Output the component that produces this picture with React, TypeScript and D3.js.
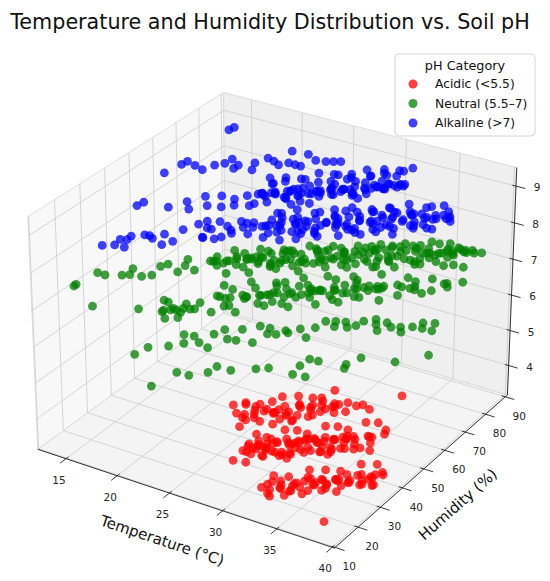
import { useEffect, useRef } from 'react';
import * as d3 from 'd3';

type Sample = [number, number, number]; // temperature (°C), humidity (%), pH

const acidicSamples: Sample[] = [
  [27.2, 27.1, 4.9], [28.0, 28.8, 4.9], [29.3, 22.8, 4.9], [28.6, 25.5, 4.85], [29.0, 28.5, 4.95], [29.4, 26.0, 4.8], [29.8, 29.5, 4.9], [30.1, 27.0, 5.0], [30.5, 31.5, 4.85], [30.8, 28.5, 4.95], [31.2, 32.5, 4.8], [31.5, 30.0, 4.9], [31.9, 34.0, 5.0], [32.2, 31.5, 4.85], [32.6, 35.5, 4.9], [32.9, 33.0, 4.8], [33.3, 37.0, 4.95], [33.6, 35.0, 4.9], [34.0, 39.5, 4.85], [34.3, 37.0, 5.0], [34.7, 42.0, 4.9], [35.0, 39.5, 4.8], [30.0, 31.0, 5.05], [32.0, 30.0, 4.75], [33.0, 38.5, 5.05], [31.0, 26.5, 4.75], [36.7, 41.9, 4.9], [37.8, 51.3, 4.9],
  [28.2, 23.9, 4.93], [28.8, 23.7, 4.87], [29.1, 27.6, 4.9], [29.6, 25.1, 4.97], [30.3, 30.2, 4.83], [30.6, 28.6, 4.9], [31.0, 31.8, 4.97], [31.4, 30.4, 4.83], [31.7, 34.8, 4.9], [32.1, 33.5, 4.95], [32.4, 37.4, 4.85], [32.8, 34.6, 4.9], [33.1, 38.5, 4.97], [33.5, 37.7, 4.83], [33.9, 39.9, 4.9], [34.4, 39.4, 4.95], [35.4, 42.4, 4.85], [35.9, 42.9, 4.9],
  [28.4, 27.0, 5.08], [28.9, 22.0, 4.72], [29.4, 28.5, 5.05], [29.9, 26.0, 4.75], [30.4, 33.5, 5.1], [30.9, 30.0, 4.7], [31.4, 35.9, 5.08], [31.9, 30.9, 4.72], [32.4, 37.4, 5.05], [32.9, 34.9, 4.75], [33.4, 42.4, 5.1], [34.0, 39.2, 4.7],
  [29.7, 15.6, 4.2], [30.0, 21.0, 4.4], [30.3, 17.0, 4.45], [30.6, 22.0, 4.35], [30.9, 18.5, 4.5], [31.2, 23.0, 4.4], [31.5, 19.5, 4.3], [31.8, 24.5, 4.45], [32.1, 21.0, 4.4], [32.4, 26.0, 4.5], [32.7, 22.5, 4.35], [33.0, 27.0, 4.4], [33.3, 23.5, 4.3], [33.6, 28.5, 4.45], [33.9, 25.0, 4.4], [34.2, 29.5, 4.5], [34.5, 26.5, 4.35], [34.8, 31.0, 4.4], [35.1, 28.0, 4.3], [35.4, 32.0, 4.45], [35.7, 29.5, 4.4], [36.0, 33.5, 4.5], [36.3, 31.0, 4.35], [36.7, 35.5, 4.4], [37.1, 33.0, 4.3], [37.6, 37.5, 4.45], [38.0, 36.0, 4.4], [38.4, 40.4, 4.45], [38.3, 41.5, 4.5], [31.0, 20.5, 4.6], [32.5, 23.5, 4.2], [34.0, 27.0, 4.6], [35.5, 30.5, 4.2], [33.5, 26.0, 4.55], [36.5, 33.0, 4.6], [30.5, 19.5, 4.25],
  [30.2, 19.6, 4.43], [30.4, 18.1, 4.37], [30.7, 21.9, 4.4], [31.1, 19.0, 4.47], [31.3, 22.5, 4.33], [31.6, 20.8, 4.4], [32.0, 23.9, 4.47], [32.2, 21.9, 4.33], [32.5, 26.2, 4.4], [32.9, 24.7, 4.45], [33.1, 28.3, 4.35], [33.4, 25.1, 4.4], [33.8, 29.1, 4.47], [34.0, 27.7, 4.33], [34.4, 29.7, 4.4], [34.7, 32.0, 4.45], [35.0, 29.3, 4.35], [35.3, 33.1, 4.4], [35.6, 31.9, 4.47], [35.9, 35.7, 4.33], [36.2, 33.0, 4.4], [36.5, 35.8, 4.45], [36.9, 34.3, 4.35], [37.3, 38.4, 4.4], [37.8, 37.7, 4.45], [32.0, 22.0, 4.55], [33.0, 24.5, 4.25], [34.5, 28.5, 4.55], [35.5, 31.0, 4.25], [31.5, 23.5, 4.55],
  [30.3, 22.8, 4.6], [30.7, 16.4, 4.2], [31.1, 23.5, 4.55], [31.5, 20.0, 4.25], [31.9, 27.6, 4.62], [32.3, 23.2, 4.18], [32.7, 29.2, 4.6], [33.1, 22.8, 4.2], [33.5, 29.8, 4.55], [33.9, 26.4, 4.25], [34.3, 34.0, 4.62], [34.7, 29.5, 4.18], [35.1, 35.6, 4.6], [35.5, 29.2, 4.2], [35.9, 36.2, 4.55], [36.3, 32.8, 4.25], [36.7, 40.4, 4.62], [37.1, 35.9, 4.18], [37.5, 42.0, 4.6], [38.0, 35.8, 4.2], [31.3, 21.5, 4.4], [32.9, 25.7, 4.42], [34.5, 30.0, 4.38], [36.1, 34.3, 4.42],
  [32.3, 15.7, 3.7], [32.7, 18.5, 3.75], [33.0, 15.0, 3.65], [33.4, 19.0, 3.7], [33.8, 16.5, 3.8], [34.1, 20.5, 3.65], [34.5, 18.0, 3.7], [34.8, 22.5, 3.75], [35.2, 19.5, 3.6], [35.5, 24.0, 3.7], [35.9, 21.5, 3.8], [36.2, 25.5, 3.65], [36.6, 23.0, 3.7], [36.9, 27.5, 3.75], [37.3, 24.5, 3.6], [37.6, 29.0, 3.7], [38.0, 26.5, 3.8], [38.3, 31.0, 3.65], [38.7, 29.0, 3.7], [39.0, 33.5, 3.75], [39.4, 35.0, 3.7], [39.2, 31.0, 3.6], [35.0, 23.0, 3.85], [36.0, 26.5, 3.55], [37.0, 25.5, 3.85], [38.5, 33.0, 3.6], [34.0, 17.5, 3.55], [38.5, 13.3, 3.5],
  [32.5, 17.3, 3.72], [32.9, 16.4, 3.66], [33.2, 19.7, 3.75], [33.6, 17.8, 3.68], [34.3, 21.3, 3.72], [34.7, 20.9, 3.66], [35.0, 24.2, 3.75], [35.4, 23.3, 3.68], [35.7, 25.7, 3.72], [36.1, 24.3, 3.8], [36.4, 28.6, 3.62], [36.8, 27.3, 3.7], [37.1, 30.1, 3.75], [37.5, 28.7, 3.66], [37.8, 31.5, 3.72], [38.2, 31.2, 3.8], [38.5, 34.0, 3.62], [38.9, 32.6, 3.7], [39.3, 35.2, 3.75], [33.9, 22.2, 3.6],
  [32.6, 19.5, 3.85], [33.1, 15.4, 3.55], [33.6, 21.3, 3.82], [34.1, 19.2, 3.58], [34.6, 25.6, 3.88], [35.1, 22.5, 3.52], [35.6, 27.9, 3.85], [36.1, 23.8, 3.55], [36.6, 29.7, 3.82], [37.1, 27.6, 3.58], [37.6, 34.0, 3.88], [38.1, 30.9, 3.52], [38.6, 36.3, 3.85], [39.1, 32.2, 3.55],
];

const neutralSamples: Sample[] = [
  [12.4, 25.5, 6.95], [12.5, 26.0, 6.98], [12.6, 34.3, 6.93], [13.3, 34.4, 6.92], [14.4, 36.8, 6.9], [14.9, 37.9, 6.9], [15.8, 39.0, 6.88], [16.3, 41.1, 6.86], [16.0, 46.1, 6.85], [16.3, 48.0, 6.85], [17.6, 49.6, 6.84], [17.1, 53.0, 6.82], [14.5, 40.9, 6.9], [17.7, 46.0, 6.84], [18.6, 49.2, 6.82],
  [18.8, 58.2, 6.8], [19.1, 53.9, 6.9], [19.5, 57.8, 6.7], [19.8, 53.6, 6.85], [20.2, 60.5, 6.75], [20.5, 59.2, 6.9], [20.9, 57.1, 6.8], [21.2, 64.8, 6.7], [21.6, 60.7, 6.85], [21.9, 64.4, 6.75], [22.3, 60.3, 6.8], [22.6, 64.9, 6.9], [23.0, 62.8, 6.7], [23.3, 68.5, 6.85], [23.7, 66.4, 6.75], [24.0, 63.1, 6.9], [24.4, 70.0, 6.8], [24.7, 67.7, 6.7], [25.1, 73.6, 6.85], [25.4, 67.3, 6.75], [25.8, 74.2, 6.8], [26.1, 69.9, 6.9], [26.5, 73.8, 6.7], [26.8, 69.5, 6.85], [27.2, 76.4, 6.75], [27.5, 75.0, 6.9], [27.9, 72.8, 6.8], [28.2, 80.4, 6.7], [28.6, 76.2, 6.85], [28.9, 79.8, 6.75], [29.3, 75.6, 6.8], [29.6, 80.3, 6.9], [30.0, 78.1, 6.7], [30.3, 83.7, 6.85], [30.7, 81.5, 6.75], [31.0, 78.1, 6.9], [31.4, 84.9, 6.8], [31.7, 82.5, 6.7], [32.1, 88.3, 6.85], [32.4, 81.9, 6.75], [32.8, 88.7, 6.8], [33.1, 84.3, 6.9], [33.5, 88.1, 6.7], [33.8, 83.7, 6.85], [34.2, 90.6, 6.75], [34.5, 89.2, 6.9], [34.9, 87.0, 6.8], [35.7, 90.8, 6.85], [36.1, 90.0, 6.9], [36.5, 90.9, 6.95], [36.9, 89.5, 6.97], [37.4, 90.6, 6.97],
  [23.6, 65.5, 6.95], [27.6, 78.0, 6.6], [30.1, 77.0, 6.6], [32.6, 83.0, 6.6], [25.6, 73.5, 6.6], [31.1, 83.5, 6.95], [23.1, 66.5, 6.6], [34.8, 90.5, 6.7], [29.1, 80.0, 6.95],
  [19.0, 55.7, 6.8], [19.4, 55.1, 6.87], [19.8, 59.0, 6.73], [20.3, 55.7, 6.92], [20.7, 62.6, 6.68], [21.1, 61.0, 6.8], [21.5, 60.9, 6.87], [21.9, 62.4, 6.73], [22.3, 61.8, 6.92], [22.7, 65.7, 6.68], [23.1, 62.1, 6.8], [23.5, 69.0, 6.87], [23.9, 67.5, 6.73], [24.3, 67.4, 6.92], [24.7, 68.8, 6.68], [25.1, 68.2, 6.8], [25.5, 72.1, 6.87], [25.9, 68.5, 6.73], [26.3, 73.4, 6.92], [26.7, 73.8, 6.68], [27.1, 73.7, 6.8], [27.5, 75.0, 6.87], [27.9, 74.3, 6.73], [28.3, 76.1, 6.92], [28.7, 74.4, 6.68], [29.1, 81.2, 6.8], [29.5, 79.6, 6.87], [29.9, 79.4, 6.73], [30.3, 80.7, 6.92], [30.7, 80.0, 6.68], [31.1, 83.8, 6.8], [31.5, 80.1, 6.87], [31.9, 86.9, 6.73], [32.3, 85.2, 6.92], [32.7, 85.0, 6.68], [33.1, 86.3, 6.8], [33.5, 85.6, 6.87], [33.9, 89.4, 6.73], [34.3, 85.8, 6.92], [34.7, 90.6, 6.8], [35.1, 88.4, 6.87], [35.5, 90.2, 6.93],
  [20.0, 60.5, 6.97], [20.4, 54.9, 6.62], [20.8, 61.3, 6.92], [21.2, 58.8, 6.68], [21.6, 64.7, 6.95], [22.0, 57.6, 6.65], [22.4, 64.5, 6.97], [22.8, 63.4, 6.62], [23.2, 67.8, 6.92], [23.6, 62.3, 6.68], [24.0, 68.0, 6.95], [24.4, 66.1, 6.65], [24.8, 72.0, 6.97], [25.2, 64.9, 6.62], [25.6, 71.8, 6.92], [26.0, 70.7, 6.68], [26.4, 75.2, 6.95], [26.8, 69.6, 6.65], [27.2, 75.0, 6.97], [27.6, 73.2, 6.62], [28.0, 79.0, 6.92], [28.4, 71.8, 6.68], [28.8, 78.6, 6.95], [29.2, 77.4, 6.65], [29.6, 81.8, 6.97], [30.0, 76.1, 6.62], [30.4, 83.4, 6.92], [30.8, 79.7, 6.68], [31.2, 85.5, 6.95], [31.6, 78.3, 6.65], [32.0, 85.1, 6.97], [32.4, 83.9, 6.62], [32.8, 90.2, 6.92], [33.2, 82.5, 6.68], [33.6, 89.8, 6.95], [34.0, 86.1, 6.65], [34.4, 90.9, 6.97], [34.8, 85.7, 6.62], [35.2, 90.9, 6.92], [35.6, 86.3, 6.68], [36.0, 90.0, 6.95], [36.4, 87.0, 6.65],
  [12.9, 30.6, 6.2], [16.5, 34.5, 6.25], [17.6, 40.5, 6.3], [17.9, 41.0, 6.25], [18.2, 37.0, 6.2], [18.5, 40.5, 6.15], [18.7, 36.0, 6.1], [19.0, 39.5, 6.2], [19.3, 42.5, 6.25], [19.5, 38.0, 6.1], [19.9, 41.5, 6.2], [20.3, 44.0, 6.3], [18.0, 38.5, 6.15], [18.8, 38.0, 6.25], [19.2, 40.5, 6.1], [19.7, 39.5, 6.3], [20.0, 43.0, 6.15],
  [20.5, 50.5, 6.2], [21.1, 49.0, 6.3], [21.6, 48.5, 6.1], [22.2, 54.0, 6.2], [22.8, 52.0, 6.25], [23.3, 57.0, 6.15], [23.7, 54.5, 6.3], [24.1, 59.0, 6.2], [24.5, 56.5, 6.1], [24.8, 61.5, 6.25], [25.2, 58.5, 6.2], [25.6, 63.5, 6.3], [25.9, 60.5, 6.15], [26.3, 65.5, 6.2], [26.7, 62.5, 6.25], [27.0, 67.5, 6.1], [27.4, 64.5, 6.3], [27.8, 69.0, 6.2], [28.1, 65.5, 6.15], [28.5, 70.5, 6.25], [28.9, 67.5, 6.2], [29.3, 72.0, 6.3], [29.7, 69.0, 6.1], [30.1, 74.0, 6.2], [30.6, 71.0, 6.25], [31.0, 76.5, 6.15], [31.5, 73.0, 6.3], [32.0, 78.0, 6.2], [32.6, 75.0, 6.1], [33.1, 81.0, 6.25], [33.6, 78.0, 6.2], [34.2, 83.5, 6.3], [34.7, 80.5, 6.15], [35.3, 85.0, 6.2], [35.8, 82.5, 6.25], [36.3, 87.5, 6.2],
  [25.7, 64.0, 6.05], [28.7, 70.5, 6.05], [31.2, 72.5, 6.35], [24.2, 60.0, 6.35], [32.7, 80.5, 6.05],
  [21.3, 50.4, 6.2], [21.8, 50.3, 6.27], [22.4, 54.9, 6.13], [22.9, 52.2, 6.3], [23.5, 58.8, 6.1], [24.0, 57.7, 6.2], [24.6, 58.3, 6.27], [25.1, 61.6, 6.13], [25.7, 59.7, 6.3], [26.2, 66.1, 6.1], [26.8, 65.0, 6.2], [27.3, 64.6, 6.27], [27.9, 69.0, 6.13], [28.4, 66.1, 6.3], [29.0, 72.5, 6.1], [29.5, 71.1, 6.2], [30.1, 71.5, 6.27], [30.6, 74.6, 6.13], [31.2, 73.0, 6.25], [32.3, 78.5, 6.15], [33.5, 78.7, 6.25], [35.0, 85.2, 6.15],
  [20.6, 53.1, 6.38], [21.0, 45.6, 6.02], [21.4, 53.2, 6.33], [21.8, 49.8, 6.07], [22.2, 57.8, 6.4], [22.6, 48.9, 6.0], [23.0, 56.0, 6.38], [23.4, 55.1, 6.02], [23.8, 61.6, 6.33], [24.2, 54.2, 6.07], [24.6, 61.8, 6.4], [25.0, 58.4, 6.0], [25.4, 66.4, 6.38], [25.8, 57.5, 6.02], [26.2, 64.6, 6.33], [26.6, 63.5, 6.07], [27.0, 69.9, 6.4], [27.4, 62.3, 6.0], [27.8, 69.7, 6.38], [28.2, 66.2, 6.02], [28.6, 74.1, 6.33], [29.0, 65.0, 6.07], [29.4, 71.9, 6.4], [29.8, 70.8, 6.0], [30.5, 77.9, 6.38], [31.5, 71.7, 6.02], [32.5, 80.5, 6.33], [34.0, 79.4, 6.07],
  [20.5, 36.2, 5.8], [21.3, 32.6, 5.8], [21.5, 36.1, 5.85], [22.1, 35.5, 5.75], [23.3, 33.8, 5.8], [22.5, 40.1, 5.8], [23.0, 42.5, 5.85], [24.4, 41.0, 5.75], [24.0, 45.6, 5.8], [25.9, 41.3, 5.8], [25.1, 48.4, 5.85], [25.8, 49.5, 5.8], [26.6, 48.4, 5.75], [27.1, 50.4, 5.8], [28.1, 52.2, 5.85], [29.1, 50.0, 5.8], [28.7, 56.1, 5.75], [29.0, 59.4, 5.8], [29.7, 60.6, 5.8], [30.6, 60.8, 5.85], [31.3, 62.1, 5.75], [31.6, 64.2, 5.8], [32.3, 66.5, 5.8], [33.5, 61.0, 5.85], [33.2, 67.2, 5.75], [34.0, 65.0, 5.8], [35.1, 64.1, 5.8], [35.6, 67.0, 5.85], [36.1, 69.1, 5.75], [36.7, 72.1, 5.8], [37.1, 68.5, 5.8],
  [27.5, 49.5, 5.82], [30.0, 58.5, 5.78], [32.8, 64.0, 5.82], [34.6, 66.5, 5.78], [26.2, 46.5, 5.82], [23.8, 40.0, 5.78], [31.0, 59.5, 5.8], [35.9, 70.5, 5.82],
  [18.3, 25.0, 5.6], [18.9, 28.0, 5.7], [20.0, 31.8, 5.65], [22.8, 23.0, 5.6], [24.2, 21.9, 5.7], [24.9, 26.8, 5.6], [25.3, 28.8, 5.7], [26.4, 29.7, 5.65], [27.8, 34.1, 5.6], [28.9, 34.5, 5.7], [30.9, 35.6, 5.65], [30.5, 40.7, 5.6], [30.9, 43.1, 5.7], [31.5, 44.1, 5.65], [33.5, 46.9, 5.6], [34.0, 43.6, 5.7], [34.1, 50.7, 5.65], [36.6, 53.9, 5.6], [38.6, 59.3, 5.7], [22.5, 13.9, 5.65], [31.8, 36.9, 5.6],
];

const alkalineSamples: Sample[] = [
  [15.4, 51.0, 9.15], [15.7, 57.0, 9.15], [16.1, 57.8, 9.23], [16.6, 58.8, 9.12], [17.1, 59.7, 9.0], [17.9, 61.5, 9.11], [18.6, 62.8, 9.16], [19.1, 63.8, 9.27], [19.2, 63.9, 9.02], [19.5, 64.6, 9.1], [20.4, 66.5, 8.96], [20.6, 66.9, 9.15], [21.5, 68.6, 9.28], [21.9, 69.3, 9.2], [22.2, 70.0, 9.09], [22.9, 71.3, 9.14], [23.1, 71.9, 9.45], [23.3, 72.3, 9.08], [23.7, 72.9, 9.05], [24.2, 74.0, 9.36], [24.7, 75.0, 9.19], [25.4, 76.3, 9.16], [25.9, 77.4, 9.15], [26.4, 78.3, 9.15], [16.3, 75.0, 9.4], [16.6, 76.0, 9.45],
  [14.8, 42.0, 8.6], [15.1, 43.5, 8.65], [16.9, 46.0, 8.55], [17.8, 50.0, 8.6], [18.3, 48.5, 8.5], [18.9, 53.0, 8.7], [19.4, 51.5, 8.55], [19.8, 56.0, 8.65], [20.3, 53.5, 8.5], [20.8, 57.0, 8.6], [21.2, 55.0, 8.55], [21.7, 58.5, 8.7], [22.1, 57.5, 8.5],
  [22.5, 61.5, 8.7], [22.9, 60.0, 8.75], [23.3, 63.5, 8.65], [23.6, 62.0, 8.8], [24.0, 65.5, 8.7], [24.3, 63.5, 8.6], [24.7, 67.0, 8.75], [25.0, 65.5, 8.65], [25.4, 69.0, 8.8], [25.7, 67.0, 8.7], [26.1, 70.5, 8.6], [26.4, 69.0, 8.75], [26.8, 72.5, 8.7], [27.1, 70.5, 8.8], [27.5, 74.0, 8.65], [27.8, 72.5, 8.75], [28.2, 76.0, 8.7], [28.5, 74.0, 8.6], [28.9, 77.5, 8.8], [29.2, 76.0, 8.7], [29.6, 79.5, 8.65], [29.9, 78.0, 8.75], [30.3, 81.5, 8.7], [30.6, 80.0, 8.8], [31.0, 83.5, 8.65], [31.3, 82.0, 8.75], [23.0, 64.0, 8.9], [26.0, 66.0, 8.5], [27.5, 76.0, 8.85], [29.0, 73.5, 8.55], [25.0, 62.5, 8.55], [30.0, 82.0, 8.9],
  [22.3, 60.5, 8.7], [22.7, 60.1, 8.77], [23.1, 64.2, 8.63], [23.5, 60.8, 8.82], [23.8, 67.6, 8.58], [24.2, 66.2, 8.7], [24.5, 66.0, 8.77], [24.9, 67.6, 8.63], [25.2, 66.9, 8.82], [25.6, 71.0, 8.58], [25.9, 67.3, 8.7], [26.3, 74.3, 8.77], [26.6, 72.7, 8.63], [27.0, 72.7, 8.82], [27.3, 74.0, 8.58], [27.7, 73.6, 8.7], [28.0, 77.4, 8.77], [28.4, 74.0, 8.63], [28.7, 80.8, 8.82], [29.1, 79.4, 8.58], [29.4, 79.2, 8.7], [29.8, 80.8, 8.77], [30.1, 80.1, 8.63], [30.5, 84.2, 8.82], [30.8, 81.5, 8.7], [31.2, 84.6, 8.63],
  [22.4, 65.3, 8.95], [22.6, 57.4, 8.6], [22.8, 64.4, 8.85], [23.0, 60.4, 8.7], [23.3, 68.2, 8.9], [23.5, 58.8, 8.65], [23.8, 65.6, 8.95], [24.0, 64.1, 8.6], [24.3, 70.4, 8.85], [24.5, 62.5, 8.7], [24.8, 69.8, 8.9], [25.0, 65.8, 8.65], [25.3, 73.6, 8.95], [25.5, 64.2, 8.6], [25.8, 71.0, 8.85], [26.0, 69.5, 8.7], [26.3, 75.8, 8.9], [26.5, 67.9, 8.65], [26.8, 75.2, 8.95], [27.0, 71.2, 8.6], [27.3, 79.0, 8.85], [27.5, 69.6, 8.7], [27.8, 76.4, 8.9], [28.0, 74.9, 8.65], [28.3, 81.2, 8.95], [28.5, 73.3, 8.6], [28.8, 80.6, 8.85], [29.0, 76.6, 8.7], [29.3, 84.4, 8.9], [29.5, 75.0, 8.65], [29.8, 81.8, 8.95], [30.0, 80.3, 8.6], [30.3, 86.6, 8.85], [30.5, 78.7, 8.7], [30.8, 86.0, 8.9], [31.0, 82.0, 8.65], [31.3, 87.8, 8.95], [31.5, 82.4, 8.7],
  [14.2, 30.0, 8.0], [14.8, 32.5, 7.95], [15.0, 34.0, 8.05], [15.3, 35.5, 8.0], [15.6, 36.0, 8.1], [15.5, 33.5, 7.9], [16.2, 39.0, 8.05], [16.7, 40.0, 7.95], [16.8, 38.5, 8.1], [17.3, 42.5, 8.0], [17.6, 40.0, 7.85], [18.2, 42.0, 7.9], [18.3, 46.0, 8.05], [19.0, 49.5, 8.1], [19.6, 50.5, 8.0], [19.8, 47.5, 7.9], [20.6, 49.0, 7.85], [21.0, 53.0, 8.05], [21.6, 52.0, 7.95], [22.2, 56.0, 8.1], [22.6, 54.5, 7.9],
  [19.3, 51.9, 8.1], [19.9, 47.3, 7.9], [20.4, 52.5, 8.15], [20.9, 50.7, 7.85], [21.3, 57.7, 8.0], [21.8, 50.9, 8.1], [22.3, 58.1, 7.9], [22.8, 56.3, 8.15], [20.0, 50.5, 8.0], [22.0, 55.3, 8.0],
  [23.2, 58.0, 8.0], [23.6, 60.5, 8.1], [23.9, 57.5, 7.9], [24.3, 61.5, 8.05], [24.7, 59.5, 7.95], [25.0, 63.5, 8.1], [25.4, 61.0, 7.9], [25.8, 65.0, 8.05], [26.1, 62.5, 7.95], [26.5, 66.5, 8.1], [26.9, 64.0, 7.9], [27.2, 68.0, 8.0], [27.6, 66.0, 8.1], [27.9, 70.0, 7.95], [28.3, 67.5, 8.05], [28.6, 71.5, 8.1], [29.0, 69.0, 7.9], [29.3, 73.0, 8.0], [29.7, 71.0, 8.1], [30.0, 75.0, 7.95], [30.4, 72.5, 8.05], [30.7, 76.5, 8.1], [31.1, 74.0, 7.9], [31.4, 77.5, 8.0], [31.8, 76.0, 8.15], [32.1, 79.5, 7.95], [32.5, 77.0, 8.05], [32.8, 81.0, 8.1], [33.2, 79.0, 7.9], [33.6, 82.0, 8.0], [34.0, 81.0, 8.1], [34.3, 84.0, 7.95], [34.8, 85.0, 8.05], [35.2, 86.0, 8.0], [24.0, 63.0, 8.2], [28.0, 73.0, 8.15], [31.0, 79.0, 8.2], [26.0, 60.0, 7.8], [30.0, 70.0, 7.8],
  [23.4, 58.7, 8.0], [23.8, 58.2, 8.07], [24.1, 61.8, 7.93], [24.5, 58.3, 8.12], [24.9, 65.2, 7.88], [25.2, 63.4, 8.0], [25.6, 63.3, 8.07], [26.0, 64.7, 7.93], [26.3, 63.9, 8.12], [26.7, 67.8, 7.88], [27.0, 64.0, 8.0], [27.4, 70.9, 8.07], [27.8, 69.4, 7.93], [28.1, 69.0, 8.12], [28.5, 70.5, 7.88], [28.8, 69.7, 8.0], [29.2, 73.6, 8.07], [29.5, 69.8, 7.93], [29.9, 76.7, 8.12], [30.2, 74.9, 7.88], [30.6, 74.8, 8.0], [30.9, 76.0, 8.07], [31.3, 75.4, 7.93], [31.6, 79.1, 8.12], [32.0, 75.5, 7.88], [32.3, 82.2, 8.0], [32.7, 80.6, 8.07], [33.0, 80.3, 7.93], [33.4, 81.7, 8.12], [33.7, 80.9, 7.88], [34.1, 84.8, 8.0], [34.5, 81.3, 8.07], [34.9, 85.7, 7.93], [35.3, 85.1, 8.0],
  [23.5, 63.5, 8.15], [23.8, 55.7, 7.85], [24.1, 62.8, 8.1], [24.4, 59.0, 7.9], [24.7, 66.7, 8.2], [25.0, 57.4, 7.8], [25.3, 64.1, 8.15], [25.6, 62.8, 7.85], [25.9, 69.0, 8.1], [26.2, 61.2, 7.9], [26.5, 68.4, 8.2], [26.8, 64.6, 7.8], [27.1, 72.2, 8.15], [27.4, 62.9, 7.85], [27.7, 69.6, 8.1], [28.0, 68.3, 7.9], [28.3, 74.5, 8.2], [28.6, 66.7, 7.8], [28.9, 73.9, 8.15], [29.2, 70.1, 7.85], [29.5, 77.8, 8.1], [29.8, 68.5, 7.9], [30.1, 75.1, 8.2], [30.4, 73.8, 7.8], [30.7, 80.0, 8.15], [31.0, 72.2, 7.85], [31.3, 79.4, 8.1], [31.6, 75.6, 7.9], [31.9, 83.3, 8.2], [32.2, 74.0, 7.8], [32.5, 80.7, 8.15], [32.8, 79.4, 7.85], [33.1, 85.5, 8.1], [33.4, 77.7, 7.9], [33.7, 84.9, 8.2], [34.0, 81.1, 7.8], [34.3, 87.8, 8.15], [34.6, 80.5, 7.85], [35.0, 86.4, 8.1], [35.5, 84.6, 7.95],
];

const temperatureTicks = [15, 20, 25, 30, 35, 40];
const humidityTicks = [10, 20, 30, 40, 50, 60, 70, 80, 90];
const phTicks = [4, 5, 6, 7, 8, 9];

const temperatureDomain: [number, number] = [12.2, 40.2];
const humidityDomain: [number, number] = [9.7, 91.1];
const phDomain: [number, number] = [3.15, 9.5];

const categories = [
  { label: 'Acidic (<5.5)', color: 'red', samples: acidicSamples },
  { label: 'Neutral (5.5–7)', color: 'green', samples: neutralSamples },
  { label: 'Alkaline (>7)', color: 'blue', samples: alkalineSamples },
];

// view like matplotlib's 3d axes: elevation / azimuth in degrees, box aspect 4:4:3
const ELEV = 28;
const AZIM = -58;
const Z_ASPECT = 3;

// perspective camera, takes unit cube coords and gives [x, y, depth]
function camera(elev: number, azim: number, zAspect: number) {
  const aspect = [4, 4, zAspect];
  const k = 1.8294640721620434 / Math.hypot(aspect[0], aspect[1], aspect[2]);
  const box = aspect.map(v => v * k);
  const e = elev * Math.PI / 180, a = azim * Math.PI / 180;
  const w = [Math.cos(e) * Math.cos(a), Math.cos(e) * Math.sin(a), Math.sin(e)];
  const u = [-Math.sin(a), Math.cos(a), 0];
  const v = [-Math.sin(e) * Math.cos(a), -Math.sin(e) * Math.sin(a), Math.cos(e)];
  const eye = box.map((b, i) => b / 2 + 10 * w[i]);
  return (n: number[]) => {
    const d = n.map((t, i) => t * box[i] - eye[i]);
    const dot = (q: number[]) => q[0] * d[0] + q[1] * d[1] + q[2] * d[2];
    const depth = -dot(w);
    return [dot(u) / depth, dot(v) / depth, depth];
  };
}

export default function App() {
  const ref = useRef<HTMLDivElement>(null);

  useEffect(() => {
    d3.select(ref.current).html('');
    const width = 550, height = 581;
    const cam = camera(ELEV, AZIM, Z_ASPECT);

    const tx = d3.scaleLinear().domain(temperatureDomain).range([0, 1]);
    const hy = d3.scaleLinear().domain(humidityDomain).range([0, 1]);
    const pz = d3.scaleLinear().domain(phDomain).range([0, 1]);
    // projected plane -> pixels
    const sx = d3.scaleLinear().domain([0, 0.1]).range([276.3, 276.3 + 304.13]);
    const sy = d3.scaleLinear().domain([0, 0.1]).range([309.0, 309.0 - 303.73]);

    const toScreen = (t: number, h: number, p: number) => {
      const q = cam([tx(t), hy(h), pz(p)]);
      return [sx(q[0]), sy(q[1]), q[2]];
    };
    const xy = (p: number[]) => { const s = toScreen(p[0], p[1], p[2]); return [s[0], s[1]] as [number, number]; };

    const [t0, t1] = temperatureDomain, [h0, h1] = humidityDomain, [p0, p1] = phDomain;
    const line = d3.line();

    const svg = d3.select(ref.current)
      .append('svg')
      .attr('width', width)
      .attr('height', height)
      .style('position', 'absolute')
      .style('left', 0)
      .style('top', 0)
      .style('font-family', 'DejaVu Sans, sans-serif');

    svg.append('rect').attr('width', width).attr('height', height).attr('fill', '#fff');

    // panes: floor, left wall, back wall
    const panes = [
      { pts: [[t0, h0, p0], [t1, h0, p0], [t1, h1, p0], [t0, h1, p0]], fill: '#f4f4f4' },
      { pts: [[t0, h0, p0], [t0, h1, p0], [t0, h1, p1], [t0, h0, p1]], fill: '#f8f8f8' },
      { pts: [[t0, h1, p0], [t1, h1, p0], [t1, h1, p1], [t0, h1, p1]], fill: '#efefef' },
    ];
    svg.append('g').selectAll('path').data(panes).join('path')
      .attr('d', d => line(d.pts.map(xy))! + 'Z')
      .attr('fill', d => d.fill)
      .attr('stroke', '#d6d6d6')
      .attr('stroke-width', 0.8);

    // grid
    const grid: number[][][] = [];
    temperatureTicks.forEach(t => {
      grid.push([[t, h0, p0], [t, h1, p0]]);
      grid.push([[t, h1, p0], [t, h1, p1]]);
    });
    humidityTicks.forEach(h => {
      grid.push([[t0, h, p0], [t1, h, p0]]);
      grid.push([[t0, h, p0], [t0, h, p1]]);
    });
    phTicks.forEach(p => {
      grid.push([[t0, h0, p], [t0, h1, p]]);
      grid.push([[t0, h1, p], [t1, h1, p]]);
    });
    svg.append('g').selectAll('path').data(grid).join('path')
      .attr('d', d => line(d.map(xy)))
      .attr('stroke', '#cbcbcb')
      .attr('stroke-width', 0.8)
      .attr('fill', 'none');

    // axis lines
    const axes = [
      [[t0, h0, p0], [t1, h0, p0]],
      [[t1, h0, p0], [t1, h1, p0]],
      [[t1, h1, p0], [t1, h1, p1]],
    ];
    svg.append('g').selectAll('path').data(axes).join('path')
      .attr('d', d => line(d.map(xy)))
      .attr('stroke', '#222')
      .attr('stroke-width', 0.9)
      .attr('fill', 'none');

    const dh = h1 - h0, dt = t1 - t0;
    const ticks: { a: number[]; b: number[] }[] = [];
    temperatureTicks.forEach(t => ticks.push({ a: [t, h0 + 0.012 * dh, p0], b: [t, h0 - 0.03 * dh, p0] }));
    humidityTicks.forEach(h => ticks.push({ a: [t1 - 0.012 * dt, h, p0], b: [t1 + 0.03 * dt, h, p0] }));
    phTicks.forEach(p => ticks.push({ a: [t1 - 0.012 * dt, h1, p], b: [t1 + 0.03 * dt, h1, p] }));
    svg.append('g').selectAll('path').data(ticks).join('path')
      .attr('d', d => line([xy(d.a), xy(d.b)]))
      .attr('stroke', '#222')
      .attr('stroke-width', 0.9);

    const tickLabels = [
      ...temperatureTicks.map(t => ({ text: String(t), s: xy([t, h0, p0]), dx: -7, dy: 21 })),
      ...humidityTicks.map(h => ({ text: String(h), s: xy([t1, h, p0]), dx: 14, dy: 19 })),
      ...phTicks.map(p => ({ text: String(p), s: xy([t1, h1, p]), dx: 21, dy: 1 })),
    ];
    svg.append('g').selectAll('text').data(tickLabels).join('text')
      .attr('x', d => d.s[0] + d.dx)
      .attr('y', d => d.s[1] + d.dy)
      .attr('text-anchor', 'middle')
      .attr('dominant-baseline', 'central')
      .attr('font-size', 10.5)
      .attr('fill', '#262626')
      .text(d => d.text);

    // axis titles, turned along their axis
    const axisTitle = (text: string, a: number[], b: number[], dx: number, dy: number) => {
      const angle = Math.atan2(b[1] - a[1], b[0] - a[0]) * 180 / Math.PI;
      svg.append('text')
        .attr('transform', `translate(${(a[0] + b[0]) / 2 + dx},${(a[1] + b[1]) / 2 + dy}) rotate(${angle})`)
        .attr('text-anchor', 'middle')
        .attr('dominant-baseline', 'central')
        .attr('font-size', 15)
        .attr('fill', '#111')
        .text(text);
    };
    axisTitle('Temperature (°C)', xy([t0, h0, p0]), xy([t1, h0, p0]), -24, 42);
    axisTitle('Humidity (%)', xy([t1, h0, p0]), xy([t1, h1, p0]), 37, 33);

    // points, far ones first
    const dots = categories.flatMap(c => c.samples.map(s => {
      const q = toScreen(s[0], s[1], s[2]);
      return { x: q[0], y: q[1], depth: q[2], color: c.color };
    })).sort((a, b) => b.depth - a.depth);
    svg.append('g').selectAll('circle').data(dots).join('circle')
      .attr('cx', d => d.x)
      .attr('cy', d => d.y)
      .attr('r', 4.4)
      .attr('fill', d => d.color)
      .attr('fill-opacity', 0.75);

    svg.append('text')
      .attr('x', 270).attr('y', 29)
      .attr('text-anchor', 'middle')
      .attr('font-size', 20.7)
      .attr('fill', '#111')
      .text('Temperature and Humidity Distribution vs. Soil pH');

    // legend
    const legend = svg.append('g').attr('transform', 'translate(395,54)');
    legend.append('rect')
      .attr('width', 140).attr('height', 82).attr('rx', 4)
      .attr('fill', '#fff').attr('fill-opacity', 0.8)
      .attr('stroke', '#d5d5d5');
    legend.append('text')
      .attr('x', 70).attr('y', 16)
      .attr('text-anchor', 'middle')
      .attr('font-size', 12.8)
      .attr('fill', '#111')
      .text('pH Category');
    categories.forEach((c, i) => {
      const y = 30 + i * 19.5;
      legend.append('circle').attr('cx', 18).attr('cy', y).attr('r', 4.5).attr('fill', c.color).attr('fill-opacity', 0.75);
      legend.append('text').attr('x', 40).attr('y', y).attr('dominant-baseline', 'central')
        .attr('font-size', 12.3).attr('fill', '#111').text(c.label);
    });
  }, []);

  return <div ref={ref}></div>;
}
